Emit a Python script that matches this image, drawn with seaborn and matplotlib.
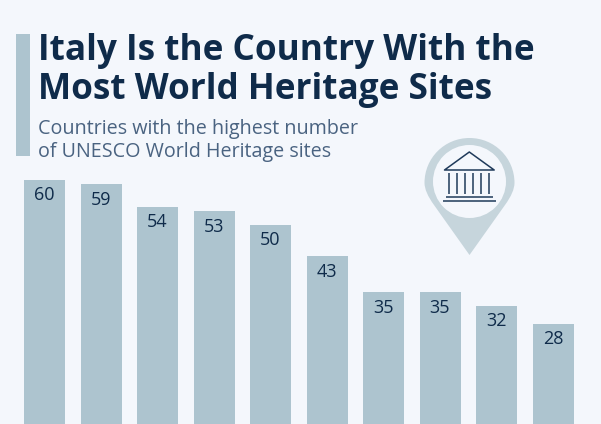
import matplotlib
matplotlib.use("Agg")
import matplotlib.pyplot as plt
from matplotlib.patches import Circle, Polygon, Rectangle, PathPatch
from matplotlib.path import Path
import pandas as pd
import seaborn as sns

countries = ["Italy", "China", "Germany", "France", "Spain", "India", "Mexico", "UK", "Russia", "Iran"]
sites = [60, 59, 54, 53, 50, 43, 35, 35, 32, 28]
title_lines = ["Italy Is the Country With the", "Most World Heritage Sites"]
subtitle_lines = ["Countries with the highest number", "of UNESCO World Heritage sites"]

BG = "#f4f7fc"
BAR = "#adc4cf"
DARK = "#0f2b4a"
SUB = "#4a6381"
PIN = "#c6d5dc"

sns.set_theme(style="white")
plt.rcParams["font.family"] = ["Open Sans", "DejaVu Sans"]

W, H = 601, 424
fig = plt.figure(figsize=(W / 100, H / 100), dpi=100, facecolor=BG)
ax = fig.add_axes([0, 0, 1, 1], facecolor=BG)

df = pd.DataFrame({"country": countries, "sites": sites})
sns.barplot(data=df, x="country", y="sites", color=BAR, saturation=1, width=0.725,
            linewidth=0, edgecolor="none", ax=ax)
ax.set_xlim(-44.5 / 56.55, (W - 44.5) / 56.55)
ax.set_ylim((449.6 - H) / 4.5, 449.6 / 4.5)
ax.axis("off")

for i, v in enumerate(sites):
    ax.annotate(str(v), (i, v), xytext=(-0.3, -15.5 * 0.72), textcoords="offset points",
                ha="center", va="center", fontsize=13, color=DARK, fontweight="medium")

# overlay in pixel coordinates for the header and icon
ov = fig.add_axes([0, 0, 1, 1], facecolor="none")
ov.set_xlim(0, W)
ov.set_ylim(H, 0)
ov.axis("off")

ov.add_patch(Rectangle((16, 33.5), 14, 122.5, color=BAR, lw=0))
for y, s in zip((51, 89.5), title_lines):
    ov.text(38, y, s, fontsize=25.3, fontweight="bold", color=DARK, va="center", ha="left")
for y, s in zip((129, 151.5), subtitle_lines):
    ov.text(38, y, s, fontsize=14.2, color=SUB, va="center", ha="left")

# map pin
pin = Path(
    [(469.5, 255), (434, 205), (424.5, 192), (424.5, 183),
     (424.5, 158), (444.5, 138), (469.5, 138),
     (494.5, 138), (514.5, 158), (514.5, 183),
     (514.5, 192), (505, 205), (469.5, 255), (469.5, 255)],
    [Path.MOVETO, Path.LINETO, Path.CURVE3, Path.CURVE3,
     Path.CURVE4, Path.CURVE4, Path.CURVE4,
     Path.CURVE4, Path.CURVE4, Path.CURVE4,
     Path.CURVE3, Path.CURVE3, Path.LINETO, Path.CLOSEPOLY],
)
ov.add_patch(PathPatch(pin, facecolor=PIN, lw=0))
ov.add_patch(Circle((469.5, 181.5), 36.5, facecolor=BG, lw=0))

# temple glyph
ICON = "#1f3a5a"
ov.add_patch(Polygon([(444.5, 170), (469.3, 152), (494.2, 170)], closed=True,
                     facecolor="none", edgecolor=ICON, lw=1.1, joinstyle="round"))
for x in (449.3, 457.3, 465.3, 473.3, 481.3, 489.3):
    ov.plot([x, x], [172.5, 194], color=ICON, lw=1.1, solid_capstyle="butt")
ov.plot([446, 493.3], [196.8, 196.8], color=ICON, lw=1.1, solid_capstyle="butt")
ov.plot([443.3, 496], [200.8, 200.8], color=ICON, lw=1.1, solid_capstyle="butt")

fig.savefig("out.png", dpi=100, facecolor=BG)
